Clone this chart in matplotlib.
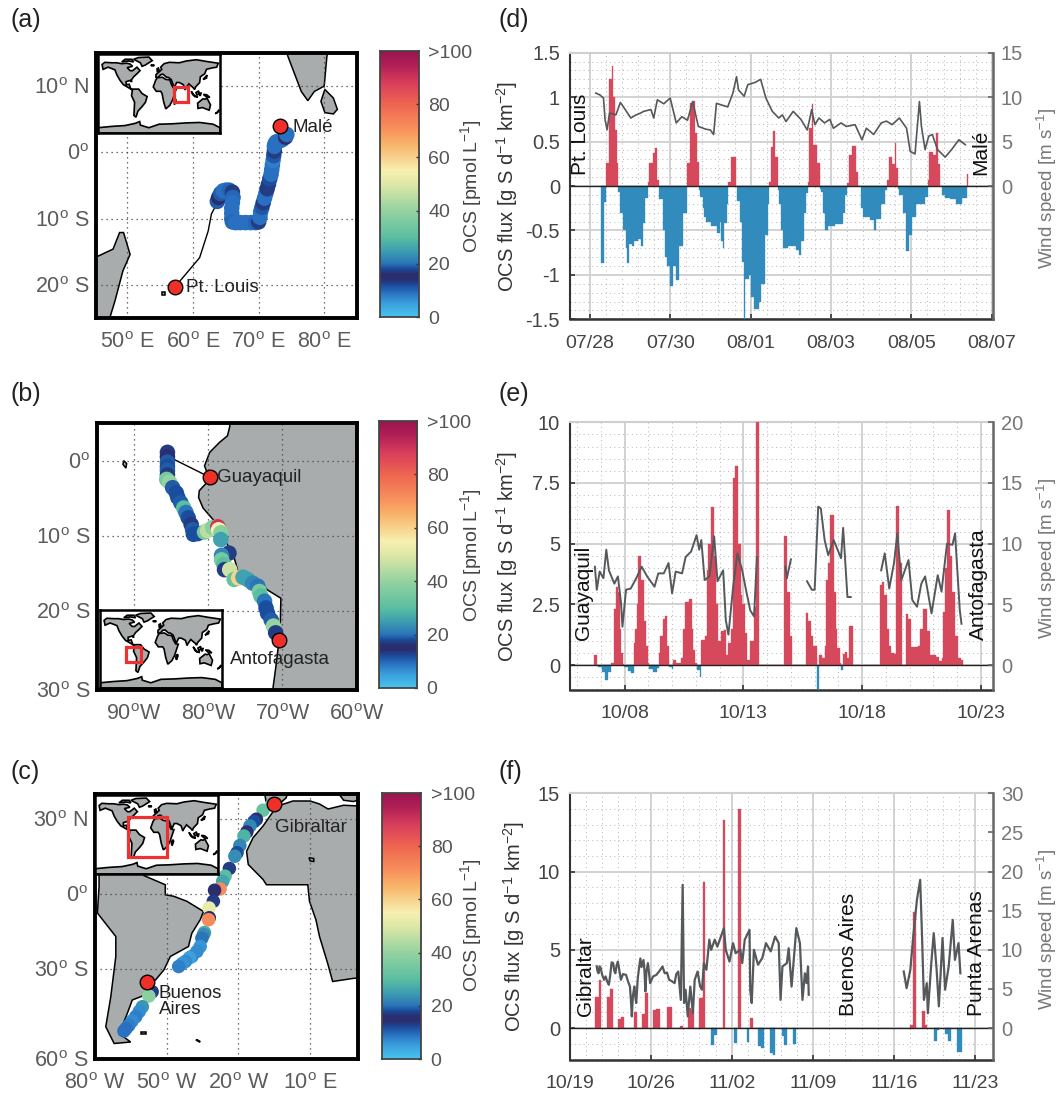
import matplotlib
matplotlib.use('Agg')
import matplotlib.pyplot as plt
import numpy as np
from matplotlib.colors import LinearSegmentedColormap
from matplotlib.patches import Polygon, Rectangle

plt.rcParams['font.family'] = ['Liberation Sans', 'DejaVu Sans']
plt.rcParams['mathtext.default'] = 'regular'
W, H = 1062, 1095

# ---------- colour scale ----------
cb_stops = [0, .05, .09, .12, .14, .16, .18, .20, .25, .30, .40, .50, .55, .65, .70, .80, .88, .95, 1]
cb_cols = ['#48c4f0', '#3a9fdc', '#2a70c0', '#1c4a9a', '#2a2e6e', '#2a2e6e', '#1a4c9c', '#2a74b8', '#3fa0b0',
           '#5bbfa0', '#95d3a0', '#dfe8a8', '#f7f0b0', '#f9b46a', '#f8955e', '#ef6650', '#d93f5c', '#b01f55', '#9a154f']
cb_ticks = [0, 20, 40, 60, 80, 100]
cb_labels = ['0', '20', '40', '60', '80', '>100']

# ---------- panel (a) map ----------
a_lon = [63.7,63.9,64.2,64.6,65.0,65.5,66.0,66.1,66.0,65.9,65.9,65.9,66.0,66.5,67.2,68,68.8,69.5,70.0,70.2,70.3,70.5,70.7,70.9,71.1,71.3,71.5,71.7,71.9,72.0,72.1,72.2,72.3,72.4,72.4,72.5,72.7,73.1,73.6,74.1,74.3]
a_lat = [-7.4,-6.8,-6.2,-5.8,-5.7,-5.7,-6.0,-6.8,-7.6,-8.4,-9.2,-10.0,-10.5,-10.6,-10.6,-10.6,-10.6,-10.6,-10.5,-9.8,-9.0,-8.3,-7.6,-6.9,-6.2,-5.5,-4.8,-4.0,-3.3,-2.6,-1.9,-1.2,-0.5,0.2,0.9,1.3,1.6,1.7,1.9,2.3,2.7]
a_ocs = [19,15,19,9,9,10,13,10,9,9,9,9,10,9,9,9,9,10,13,9,9,11,13,9,9,13,13,12,9,9,9,8,11,13,9,9,9,9,9,15,9]
a_route_lon = [57.3,61,62.3,62.8,63.6]
a_route_lat = [-20.25,-15.9,-11.9,-9.3,-7.8]
a_land = [
 [(45,-25),(45,-15.9),(47.8,-14.6),(48.8,-12.1),(49.4,-12.1),(50.4,-15.4),(49.3,-17.9),(48.1,-22.4),(47.3,-25)],
 [(74.3,15),(74.5,14.4),(75.5,11.8),(76.5,9.2),(77.5,7.8),(78.5,9.2),(80,10),(80.4,14.4),(80.5,15)],
 [(80.1,9.5),(81.4,8.2),(82,6.5),(81.4,5.8),(80.1,6),(79.5,7.7)],
 [(55.2,-21.1),(55.7,-21.1),(55.7,-21.5),(55.2,-21.5)],
]
a_ports = [(57.3,-20.25),(73.2,4.0)]

# ---------- panel (b) map ----------
b_lon = [-85.5,-85.5,-85.5,-85.5,-85.5,-85.5,-85.6,-85.2,-84.8,-84.3,-84.1,-83.7,-83.3,-83,-82.7,-82.3,-82.1,-82,-81.4,-80.5,-80.1,-79.4,-78.7,-78.6,-78.3,-78.3,-77.2,-78.2,-78.2,-77.9,-77.8,-77.1,-76.5,-75.9,-75.3,-74.7,-74,-73.3,-73.1,-72.9,-72.4,-72.2,-72,-71.5,-71.2,-70.9]
b_lat = [1.1,.5,-.2,-.8,-1.3,-1.9,-2.5,-2.9,-3.6,-4.3,-4.9,-5.6,-6.3,-6.9,-7.6,-8.5,-9.2,-9.8,-9.7,-9.5,-9.3,-8.9,-8.8,-9.2,-9.6,-10.5,-12.3,-12.6,-13.2,-13.8,-14.5,-14.5,-15.8,-15.6,-15.5,-15.8,-16.3,-16.7,-17.4,-18,-18.7,-19.6,-20.3,-21.2,-22,-22.9]
b_ocs = [17,16,19,18,19,17,35,40,19,18,18,19,30,20,18,17,19,18,18,35,45,38,90,55,38,25,13,22,35,30,17,48,32,60,25,25,22,20,35,30,20,18,18,19,40,17]
b_route_lon = [-79.8,-84.9]
b_route_lat = [-2.2,0.3]
b_land = [
 [(-77.1,5),(-77.1,4.5),(-77.4,3.3),(-78.5,2.4),(-79.8,1.1),(-80.5,-0.7),(-79.8,-2.5),(-81.2,-4.0),(-81.3,-4.9),(-80.7,-6.3),(-79.2,-8.0),(-78.0,-9.8),(-77.4,-11.2),(-76.5,-12.9),(-76.0,-14.7),(-73.3,-16.0),(-72.0,-17.2),(-70.2,-18.3),(-70.3,-22.7),(-70.9,-27.6),(-71.3,-30.5),(-60,-30.5),(-60,5)],
 [(-91.4,0),(-91,-0.4),(-91.1,-1),(-91.5,-0.5)],
]
b_ports = [(-79.8,-2.2),(-70.4,-23.8)]

# ---------- panel (c) map ----------
c_lon = [-5.9,-9.7,-12.5,-13.5,-15.2,-16.5,-17.7,-19.4,-20.6,-21.5,-23.8,-25.6,-26.6,-27.7,-30,-30.5,-32.3,-32.2,-32.5,-34.2,-34.6,-35.3,-36,-37.4,-39.5,-40.5,-42.2,-43.5,-45,-56.1,-57.5,-60.2,-61.5,-63,-64.5,-65.8,-67,-67.9]
c_lat = [36,33.5,29.9,29,27.2,24.8,23.2,19.4,16.5,15.1,10.2,7.1,5.1,2.0,1.5,-2.9,-5.6,-9.5,-10.3,-15.4,-16.2,-17.7,-21,-23,-25,-25.5,-27,-27.8,-29,-39.1,-40.8,-45.1,-47,-49.1,-50.8,-52.5,-53.8,-54.8]
c_ocs = [30,32,16,18,22,14,28,22,18,23,13,30,26,72,16,17,52,16,72,27,23,20,6,7,7,5,7,6,8,13,38,24,7,8,7,8,9,9]
c_land = [
 [(-60,10),(-59.6,7.4),(-50.6,3.7),(-50.6,-0.3),(-47.1,-0.9),(-41.6,-2.9),(-34.6,-7),(-36,-10.3),(-39.5,-15.7),(-40.9,-21),(-48.5,-25),(-51.2,-30.4),(-54.7,-34.4),(-58.2,-35.7),(-57.5,-39.8),(-64.4,-42.4),(-66.5,-47.8),(-69.9,-55.8),(-65.1,-59.2),(-72,-59.8),(-75.5,-53.1),(-73.4,-41.1),(-71.3,-25),(-71.3,-17),(-79,-7.6),(-78.3,3),(-78.3,10)],
 [(-3.5,35.2),(2.8,37.2),(10,37.2),(13.9,36),(17.5,34),(24,35.5),(30,35.2),(30,-33.7),(28.4,-33.7),(19.4,-35),(17.3,-27.7),(13.9,-17),(12.4,-10.3),(9.7,-2.9),(9,3.7),(5.5,3.7),(-8.3,3.7),(-9.7,5.8),(-15.9,11.8),(-16.6,17.1),(-13.9,22.5),(-9.7,27.2),(-5.5,33)],
 [(-9,40),(-8.5,37.2),(-5.5,36.2),(-2,36.8),(0,38.5),(0.3,40)],
 [(22,40),(24,37.5),(28,37),(30,37.5),(30,40)],
 [(-60.8,-55),(-58.6,-55),(-58.6,-55.8),(-60.8,-55.8)],
 [(-37.5,-58.2),(-36,-59),(-36.3,-59.2),(-37.6,-58.5)],
 [(9.5,14.5),(11.5,14.2),(11.5,13),(10,13.2)],
]
c_ports = [(-58.2,-35.1),(-5.3,36.1)]

# coarse world for the locator maps
world = [
 [(-168,66),(-160,71),(-140,70),(-125,70),(-110,68),(-95,69),(-85,67),(-78,62),(-94,59),(-85,52),(-78,52),(-65,60),(-56,52),(-65,45),(-75,38),(-81,31),(-81,26),(-84,30),(-97,27),(-97,20),(-88,21),(-83,10),(-78,8),(-85,11),(-105,20),(-115,30),(-124,42),(-130,54),(-150,60),(-165,55)],
 [(-75,78),(-60,82),(-30,83),(-20,75),(-40,65),(-50,62),(-55,70)],
 [(-110,72),(-90,74),(-75,72),(-80,78),(-100,78)],
 [(-78,10),(-60,10),(-50,0),(-35,-7),(-40,-20),(-50,-30),(-62,-40),(-68,-54),(-74,-50),(-72,-20),(-81,-5)],
 [(-17,15),(-10,30),(-5,36),(10,37),(20,32),(32,31),(37,20),(43,12),(51,11),(40,-15),(32,-27),(20,-35),(14,-20),(9,0),(5,5),(-8,5)],
 [(-9,37),(-9,43),(0,49),(8,55),(5,60),(15,68),(30,71),(60,70),(80,74),(110,77),(140,73),(175,69),(170,60),(155,58),(140,55),(135,45),(122,38),(120,25),(108,15),(105,9),(100,14),(95,17),(88,22),(80,13),(77,8),(72,20),(60,25),(52,25),(45,13),(36,32),(27,37),(22,37),(12,44),(5,43),(-2,37)],
 [(114,-22),(122,-17),(130,-12),(136,-13),(142,-11),(152,-26),(148,-38),(138,-35),(128,-32),(115,-34)],
 [(-5,50),(1,52),(-2,58),(-6,56)],
 [(-24,65),(-14,65),(-16,63),(-22,63)],
 [(130,32),(140,35),(142,42),(137,38)],
 [(95,5),(105,-5),(115,-8),(106,-7),(100,-3)],
 [(109,2),(117,6),(118,0),(112,-4)],
 [(131,-2),(141,-3),(150,-9),(140,-8)],
 [(119,1),(124,1),(122,-5),(120,-4)],
 [(44,-16),(49,-12),(50,-16),(46,-25),(44,-22)],
 [(166,-46),(174,-41),(176,-38),(178,-38),(172,-44)],
 [(-180,-90),(-180,-78),(-140,-75),(-100,-73),(-70,-68),(-57,-64),(-55,-72),(-30,-78),(0,-70),(40,-69),(80,-67),(120,-66),(160,-70),(180,-78),(180,-90)],
]
a_inset_rect = [45, 85, -19, 15]
b_inset_rect = [-103, -60, -30, 5]
c_inset_rect = [-82, 30, -52, 40]

# ---------- panel (d) series ----------
d_t = [.29,.355,.41,.49,.545,.57,.63,.67,.71,.76,.83,.90,.935,.98,1.045,1.11,1.2,1.27,1.33,1.38,1.44,1.47,1.58,1.63,1.68,1.73,1.81,1.88,1.92,2.0,2.07,2.15,2.21,2.32,2.43,2.5,2.545,2.61,2.66,2.71,2.75,2.81,2.85,2.9,3.02,3.17,3.23,3.26,3.32,3.35,3.41,3.45,3.52,3.63,3.65,3.73,3.79,3.84,3.86,3.95,4.02,4.08,4.2,4.26,4.35,4.43,4.47,4.5,4.55,4.61,4.67,4.7,4.76,4.8,4.93,5.05,5.14,5.21,5.26,5.34,5.39,5.44,5.45,5.52,5.56,5.65,5.72,5.75,5.81,5.86,5.93,6.11,6.29,6.35,6.41,6.45,6.52,6.61,6.68,6.74,6.79,6.97,7.06,7.11,7.25,7.34,7.4,7.45,7.52,7.58,7.61,7.67,7.7,7.79,7.87,7.93,8.02,8.11,8.34,8.41,8.43,8.54,8.61,8.65,8.7,8.75,8.83,8.97,9.1,9.25,9.38,9.41]
d_flux = [-.87,-.18,.26,1.2,1.35,1.0,.63,.26,-.07,-.3,-.5,-.7,-.87,-.65,-.67,-.62,-.6,-.67,-.42,-.13,.05,.26,.37,.43,.07,-.15,-.5,-.8,-.9,-1.12,-.9,-1.06,-.67,-.3,.26,.93,.96,.6,.27,-.05,-.12,-.25,-.35,-.4,-.45,-.53,-.4,-.62,-.7,-.42,-.2,.05,.33,0,-.17,-.4,-.85,-1.5,-1.05,-1.0,-1.25,-1.38,-1.3,-1.1,-.55,-.2,.05,.44,.62,.33,-.05,-.2,-.5,-.7,-.67,-.68,-.72,-.78,-.62,-.3,-.08,.05,.65,.92,.46,.26,-.03,-.07,-.3,-.5,-.45,-.43,-.3,-.1,.03,.35,.45,.16,0,-.25,-.35,-.38,-.5,-.37,-.2,-.05,.07,.33,.25,.48,.2,-.03,-.1,-.3,-.73,-.55,-.35,-.2,-.12,.07,.38,.35,.6,.25,0,-.1,-.13,-.15,-.2,-.14,.13]
d_wt = [.15,.25,.34,.38,.43,.49,.65,.76,.86,1.02,1.15,1.26,1.34,1.52,1.59,1.68,1.84,2.0,2.15,2.29,2.43,2.56,2.7,2.88,3.0,3.08,3.15,3.43,3.56,3.65,3.7,3.84,3.93,4.11,4.25,4.38,4.54,4.7,4.79,4.88,5.06,5.25,5.41,5.52,5.6,5.7,5.84,5.97,6.06,6.25,6.38,6.6,6.77,6.88,7.06,7.25,7.38,7.52,7.7,7.88,7.97,8.09,8.2,8.25,8.34,8.43,8.52,8.65,8.84,9.0,9.18,9.34]
d_wind = [10.45,10.25,9.9,7.45,6.33,8.2,8.0,9.4,8.75,7.65,8.0,8.2,8.4,8.6,7.65,9.7,9.25,9.9,7.1,7.8,7.4,9.5,6.7,6.4,6.3,5.8,9.3,8.9,10.45,12.3,10.8,10.1,11.4,11.65,12.0,9.9,8.4,7.65,8,7.25,8.4,7.5,6.3,8.6,6.9,7.65,7.1,7.5,6.5,7.1,6.7,6.9,5.2,6.5,5.8,7.1,7.3,6.9,7.65,6.5,3.9,3.6,9.5,6.7,4.1,5.6,5.8,4.1,3.25,4.1,5.2,4.65]

# ---------- panel (e) series ----------
e_t = [-1.28,-1.15,-1.12,-.97,-.82,-.71,-.58,-.46,-.37,-.28,-.2,-.15,-.06,-.02,.15,.26,.38,.45,.52,.58,.71,.8,.89,.98,1.03,1.18,1.38,1.45,1.51,1.6,1.72,1.77,1.85,1.88,1.98,2.03,2.18,2.38,2.45,2.54,2.72,2.82,2.89,2.98,3.03,3.18,3.22,3.38,3.45,3.52,3.62,3.75,3.85,3.95,4.06,4.17,4.26,4.37,4.49,4.58,4.66,4.77,4.88,4.95,5.05,5.15,5.26,5.45,5.52,5.65,6.72,6.83,6.98,7.06,7.62,7.72,7.85,7.95,8.08,8.11,8.18,8.31,8.42,8.49,8.57,8.65,8.8,8.88,8.95,9.06,9.11,9.18,9.29,9.38,9.46,9.6,10.74,10.85,10.92,11.03,11.11,11.23,11.34,11.43,11.57,11.66,11.83,11.95,12.06,12.34,12.45,12.57,12.72,12.85,13.11,13.23,13.35,13.42,13.49,13.57,13.69,13.8,13.91,14.03,14.15,14.23]
e_flux = [.42,0,-.1,-.3,-.62,-.3,.1,2.3,3.2,3.0,1.5,.5,.05,-.1,-.25,-.35,.9,1.5,2.5,4.5,3.5,1.8,.8,.1,-.15,-.3,-.12,.5,1.2,1.9,2.0,.8,.2,-.1,-.18,.2,.08,.3,1.5,2.6,2.7,1.5,.6,.1,-.2,-.5,1.05,1.2,3.9,5.0,6.5,4.5,2.5,1.0,1.4,1.45,.4,.9,1.5,7.7,8.2,5.0,2.9,2.5,1.3,.2,1.0,2.4,10,0,5.3,3.0,1.2,0,2.15,1.8,1.2,.8,.3,-1.0,.4,.3,.8,3.5,4.2,6.2,3.0,1.5,.7,.1,-.2,.45,.55,.3,1.6,0,3.3,3.4,2.9,1.5,.8,.5,.45,6.55,4.2,0,2.1,1.9,.75,.8,1.5,2.3,1.4,.4,.35,.15,.3,2.2,4.0,6.4,4.5,3.0,1.2,.3,.2]
e_wt = [-1.25,-1.17,-1.05,-.89,-.77,-.66,-.43,-.28,-.15,-.09,.06,.26,.49,.72,.95,1.26,1.42,1.65,1.85,2.0,2.15,2.42,2.57,2.8,3.03,3.14,3.23,3.37,3.57,3.77,3.91,4.15,4.26,4.37,4.57,4.75,4.95,5.11,5.29,5.45,5.57,5.6,6.77,6.83,7.0,7.1,7.68,7.88,8.0,8.15,8.26,8.42,8.57,8.8,9.11,9.2,9.38,9.52,9.6,10.8,10.95,11.14,11.34,11.48,11.65,11.95,12.11,12.31,12.49,12.65,12.92,13.18,13.34,13.57,13.8,13.91,14.11,14.18]
e_wind = [8.1,6.2,7.7,7.15,9.5,7.8,6.7,7.3,5.1,3.15,6.2,6.3,7.15,8.1,7.3,6.45,7.55,7.55,8.4,5.9,7.7,7.55,8.9,9.35,10.7,9.5,10.3,7.0,7.3,10.6,6.9,7.8,3.7,2.5,6.45,9.2,7.8,6.2,4.5,4.0,8.9,np.nan,8.1,7.15,8.7,np.nan,6.9,6.2,6.2,13.05,12.9,10.3,9.05,10.3,8.8,11.3,5.6,5.6,np.nan,7.8,9.2,6.3,8.4,10.85,7.0,8.65,5.35,4.8,6.7,7.3,4.25,7.4,6.05,10.0,9.9,10.85,4.5,3.4]

# ---------- panel (f) series ----------
f_start = [2.21,2.52,3.22,3.47,4.2,4.42,5.52,6.28,6.53,7.16,7.48,8.42,9.5,10.19,10.5,11.2,11.48,12.18,12.43,13.19,14.2,14.51,15.27,15.55,16.28,16.53,17.29,17.51,18.3,18.49,19.27,29.4,29.65,30.38,30.63,31.42,31.67,32.43,32.62,33.41]
f_stop = [2.52,2.68,3.47,3.72,4.42,4.67,5.84,6.53,6.78,7.48,7.79,8.8,9.81,10.5,10.76,11.48,11.7,12.43,12.68,13.44,14.45,14.76,15.49,15.8,16.53,16.78,17.51,17.76,18.49,18.74,19.56,29.65,29.9,30.63,30.88,31.67,31.89,32.62,32.87,33.88]
f_flux = [2.0,3.1,2.0,2.5,.55,.7,1.0,.9,2.25,1.15,1.25,1.35,.15,1.3,1.15,1.95,9.35,-1.05,-.45,13.3,-.95,14.0,-.9,.65,-1.15,-1.25,-1.6,-1.7,-.5,-1.1,-1.0,.2,7.4,1.1,.2,-.85,-.1,-.4,-.8,-1.5]
f_wt = [2.33,2.41,2.49,2.58,2.68,2.8,2.97,3.1,3.25,3.38,3.5,3.62,3.75,3.85,3.94,4.05,4.16,4.28,4.42,4.6,4.86,5.05,5.2,5.3,5.36,5.46,5.58,5.66,5.74,5.88,6.0,6.1,6.2,6.37,6.45,6.53,6.62,6.75,6.85,6.94,7.2,7.48,7.7,8.01,8.2,8.4,8.58,8.8,9.05,9.2,9.37,9.59,9.75,9.87,10.0,10.19,10.41,10.63,10.79,11.04,11.26,11.42,11.58,11.8,12.05,12.21,12.52,12.74,13.31,13.47,13.79,14.1,14.32,14.73,14.89,15.11,15.52,15.58,15.71,15.9,16.25,16.62,16.94,17.35,17.73,18.04,18.2,18.36,18.74,18.9,19.15,19.56,19.87,20.09,20.3,20.44,20.57,20.63,20.7,28.83,29.08,29.4,29.65,29.97,30.25,30.41,30.57,30.82,30.91,31.23,31.42,31.67,31.86,32.18,32.4,32.71,33.06,33.25,33.56,33.72]
f_wind = [7.9,7.2,7.0,7.9,7.66,6.8,6.17,6.6,5.9,5.53,6.8,8.4,8.3,7.3,7.0,8.0,8.5,7.4,6.17,6.9,6.8,5.9,5.3,3.2,1.5,4.2,5.3,4.0,3.2,6.4,7.87,8.9,7.8,8.7,7.4,4.68,7.2,8.3,7.0,5.74,6.6,6.8,7.2,7.87,7.0,7.1,6.17,6.0,5.74,6.9,7.23,3.6,18.3,3.2,4.9,1.5,5.3,1.9,6.17,7.23,5.3,4.9,8.3,7.45,11.3,10,11.3,10.4,12.77,10,8.5,10.85,9.57,10,8.3,11.3,12.55,4.9,3.2,10,8.1,8.94,10.85,9.8,11.7,10.85,3.6,7.87,8.3,10.2,5.3,12.77,10.85,3.6,7,5.74,7.87,4.25,np.nan,7.23,5.1,7.45,11.7,16.4,18.94,11.7,3.6,5.74,1.9,8.7,12.13,7.45,2.77,11.5,4.9,7.87,13.83,8.72,10.85,7.0]

d_dates = ['07/28','07/30','08/01','08/03','08/05','08/07']
e_dates = ['10/08','10/13','10/18','10/23']
f_dates = ['10/19','10/26','11/02','11/09','11/16','11/23']

# ---------- drawing ----------
cmap = LinearSegmentedColormap.from_list('ocs', list(zip(cb_stops, cb_cols)), N=256)
fig = plt.figure(figsize=(W/100, H/100), dpi=100)
LAND = '#a9acac'
RED = '#d6495c'
BLUE = '#318bbd'

def px_axes(x0, y0, x1, y1, **kw):
    return fig.add_axes([x0/W, 1-y1/H, (x1-x0)/W, (y1-y0)/H], **kw)

def ftext(x, y, s, **kw):
    return fig.text(x/W, 1-y/H, s, **kw)

def deg(v, h):
    return f'{v}$^{{o}}$ {h}'.rstrip()

def map_panel(box, xlim, ylim, xt, xl, yt, yl, land, lon, lat, ocs, ports, route=None, inset=None, rect=None, gx=None, gy=None, ms=115):
    ax = px_axes(*box)
    ax.set_xlim(*xlim); ax.set_ylim(*ylim)
    for poly in land:
        ax.add_patch(Polygon(poly, closed=True, fc=LAND, ec='k', lw=1.1, zorder=2))
    for g in (gx if gx is not None else xt):
        ax.axvline(g, color='#444', lw=0.9, ls=(0, (1, 3)), zorder=3)
    for g in (gy if gy is not None else yt):
        ax.axhline(g, color='#444', lw=0.9, ls=(0, (1, 3)), zorder=3)
    if route:
        ax.plot(route[0], route[1], color='k', lw=1.0, zorder=4)
    ax.scatter(lon, lat, c=ocs, cmap=cmap, vmin=0, vmax=100, s=ms, linewidths=0, zorder=5)
    ax.scatter([p[0] for p in ports], [p[1] for p in ports], s=110, c='#f03028', edgecolors='k', linewidths=1.0, zorder=6)
    ax.set_xticks(xt); ax.set_xticklabels(xl)
    ax.set_yticks(yt); ax.set_yticklabels(yl)
    ax.tick_params(length=0, labelsize=15.5, labelcolor='#5c5c5c')
    ax.tick_params(axis='x', pad=10)
    ax.tick_params(axis='y', pad=5)
    for s in ax.spines.values():
        s.set_linewidth(2.8); s.set_zorder(20)
    ins = px_axes(*inset, zorder=10)
    ins.set_xlim(-180, 180); ins.set_ylim(-90, 90)
    ins.set_xticks([]); ins.set_yticks([])
    for poly in world:
        ins.add_patch(Polygon(poly, closed=True, fc=LAND, ec='k', lw=1.2))
    ins.add_patch(Rectangle((rect[0], rect[2]), rect[1]-rect[0], rect[3]-rect[2], fill=False, ec='#ee3030', lw=2.3, zorder=5))
    for s in ins.spines.values():
        s.set_linewidth(1.8)
    return ax

def colorbar(box, laby):
    cax = px_axes(*box)
    grad = np.linspace(0, 1, 256).reshape(-1, 1)
    cax.imshow(grad, aspect='auto', cmap=cmap, origin='lower', extent=[0, 1, 0, 100])
    cax.set_xticks([])
    cax.yaxis.tick_right()
    cax.set_yticks(cb_ticks); cax.set_yticklabels(cb_labels)
    cax.tick_params(axis='y', direction='in', length=2.5, width=1, color='#333', labelsize=14, labelcolor='#555', pad=7)
    for s in cax.spines.values():
        s.set_linewidth(1.3); s.set_color('#444')
    ftext(471, laby, 'OCS [pmol L$^{-1}$]', rotation=90, ha='center', va='center', fontsize=14, color='#444')

def flux_panel(box, xlim, ylim, xmaj, xl, xmin, ymaj, ymajl, ymin, rt, rl, factor):
    ax = px_axes(*box)
    ax.set_xlim(*xlim); ax.set_ylim(*ylim)
    ax.set_xticks(xmaj); ax.set_xticklabels(xl)
    ax.set_xticks(xmin, minor=True)
    ax.set_yticks(ymaj); ax.set_yticklabels(ymajl)
    ax.set_yticks(ymin, minor=True)
    ax.set_axisbelow(True)
    ax.grid(True, which='major', color='#d2d2d2', lw=1.4)
    ax.grid(True, which='minor', color='#b4b4b4', lw=0.7, ls=(0, (1, 3.5)))
    ax.tick_params(which='major', direction='in', length=3.5, width=1.2, color='#333', labelsize=14.5, labelcolor='#444', pad=7)
    ax.tick_params(axis='x', pad=11, labelsize=14)
    ax.tick_params(which='minor', length=0)
    ax.axhline(0, color='#222', lw=1.0, zorder=4)
    ax.spines['top'].set_color('#cfcfcf'); ax.spines['top'].set_linewidth(1.5)
    ax.spines['right'].set_visible(False)
    ax.spines['left'].set_linewidth(1.5); ax.spines['left'].set_color('#333')
    ax.spines['bottom'].set_linewidth(1.8); ax.spines['bottom'].set_color('#333')
    ax2 = ax.twinx()
    ax2.set_ylim(ylim[0]*factor, ylim[1]*factor)
    ax2.set_yticks(rt); ax2.set_yticklabels(rl)
    ax2.tick_params(direction='in', length=3.5, width=1.2, color='#666', labelsize=14.5, labelcolor='#777', pad=6)
    for k in ('left', 'top', 'bottom'):
        ax2.spines[k].set_visible(False)
    ax2.spines['right'].set_linewidth(1.8); ax2.spines['right'].set_color('#666')
    return ax, ax2

def steps(ax, start, stop, val):
    start, stop, val = np.array(start), np.array(stop), np.array(val)
    cols = np.where(val >= 0, RED, BLUE)
    ax.bar(start, val, width=stop-start, align='edge', color=cols, edgecolor=cols, linewidth=0.25, zorder=3)

# maps
xa = [50, 60, 70, 80]; ya = [10, 0, -10, -20]
map_panel((96, 53, 357, 318), (45.2, 85), (-25, 15), xa, [deg(v, 'E') for v in xa], ya,
          [deg(10, 'N'), deg(0, ''), deg(10, 'S'), deg(20, 'S')], a_land, a_lon, a_lat, a_ocs, a_ports,
          route=(a_route_lon, a_route_lat), inset=(98, 54, 220, 133), rect=a_inset_rect, ms=125)
colorbar((379.5, 51, 418.5, 317), 186)

xb = [-90, -80, -70, -60]; yb = [0, -10, -20, -30.5]
map_panel((97, 423, 356.5, 690), (-95, -60), (-30.5, 5), xb, ['90$^{o}$W', '80$^{o}$W', '70$^{o}$W', '60$^{o}$W'], yb,
          [deg(0, ''), deg(10, 'S'), deg(20, 'S'), deg(30, 'S')], b_land, b_lon, b_lat, b_ocs, b_ports,
          route=(b_route_lon, b_route_lat), inset=(100, 610, 222, 688), rect=b_inset_rect, gx=[-90, -80, -70], gy=[0, -10, -20], ms=125)
colorbar((378.5, 421, 417, 688), 555)

xc = [-80, -50, -20, 10]; yc = [30, 0, -30, -66]
map_panel((95, 794, 358, 1059), (-80, 30), (-66, 40), xc, [deg(80, 'W'), deg(50, 'W'), deg(20, 'W'), deg(10, 'E')], yc,
          [deg(30, 'N'), deg(0, ''), deg(30, 'S'), deg(60, 'S')], c_land, c_lon, c_lat, c_ocs, c_ports,
          inset=(95, 795, 218, 874), rect=c_inset_rect, gx=[-50, -20, 10], gy=[30, 0, -30], ms=95)
colorbar((382, 793, 421, 1059), 925)

# time series
X0, X1 = 569.7, 992.6
ax, ax2 = flux_panel((X0, 52.7, X1, 319.3), (-0.5, 10.02), (-1.5, 1.5), [0, 2, 4, 6, 8, 10], d_dates, np.arange(0, 10.01, 0.4),
                     [-1.5, -1, -.5, 0, .5, 1, 1.5], ['-1.5', '-1', '-0.5', '0', '0.5', '1', '1.5'], np.arange(-1.5, 1.51, .1),
                     [0, 5, 10, 15], ['0', '5', '10', '15'], 10)
steps(ax, d_t[:-1], d_t[1:], d_flux)
ax2.plot(d_wt, d_wind, color='#55595b', lw=1.2)

ax, ax2 = flux_panel((X0, 422.3, X1, 690), (-2.31, 15.49), (-1.03, 10), [0, 5, 10, 15], e_dates, np.arange(-2, 15.01, 1),
                     [0, 2.5, 5, 7.5, 10], ['0', '2.5', '5', '7.5', '10'], np.arange(-1, 10.01, .5),
                     [0, 5, 10, 15, 20], ['0', '5', '10', '15', '20'], 2)
steps(ax, e_t[:-1], e_t[1:], e_flux)
ax2.plot(e_wt, e_wind, color='#55595b', lw=1.4)

ax, ax2 = flux_panel((X0, 793.3, X1, 1060), (0, 36.5), (-2.04, 15), [0, 7, 14, 21, 28, 35], f_dates, np.arange(0, 36.1, 1.4),
                     [0, 5, 10, 15], ['0', '5', '10', '15'], np.arange(-2, 15.01, 1),
                     [0, 5, 10, 15, 20, 25, 30], ['0', '5', '10', '15', '20', '25', '30'], 2)
steps(ax, f_start, f_stop, f_flux)
ax2.plot(f_wt, f_wind, color='#55595b', lw=1.6)

# texts
for lab, x, y in [('(a)', 10, 20), ('(b)', 10, 394), ('(c)', 10, 772), ('(d)', 498, 20), ('(e)', 498, 394), ('(f)', 498, 772)]:
    ftext(x, y, lab, fontsize=18, ha='left', va='center', color='#222')
flab = 'OCS flux [g S d$^{-1}$ km$^{-2}$]'
wlab = 'Wind speed [m s$^{-1}$]'
for x, y in [(507.5, 187), (507.5, 557), (514, 927)]:
    ftext(x, y, flab, rotation=90, ha='center', va='center', fontsize=14.5, color='#333')
for y in (188, 558, 929):
    ftext(1047, y, wlab, rotation=90, ha='center', va='center', fontsize=13.5, color='#777')
for s, x, y in [('Pt. Louis', 581, 175), ('Malé', 981, 175), ('Guayaquil', 584, 640), ('Antofagasta', 978, 640),
                ('Gibraltar', 585, 1016), ('Buenos Aires', 848, 1016), ('Punta Arenas', 976, 1016)]:
    ftext(x, y, s, rotation=90, ha='center', va='bottom', fontsize=15, color='#111')
for s, x, y in [('Pt. Louis', 186, 287), ('Malé', 293, 127), ('Guayaquil', 217, 478), ('Antofagasta', 230, 659),
                ('Gibraltar', 275, 828), ('Buenos', 159, 993), ('Aires', 159, 1009)]:
    t = ftext(x, y, s, ha='left', va='center', fontsize=13.5, color='#222', zorder=30)

fig.savefig('out.png', dpi=100)
